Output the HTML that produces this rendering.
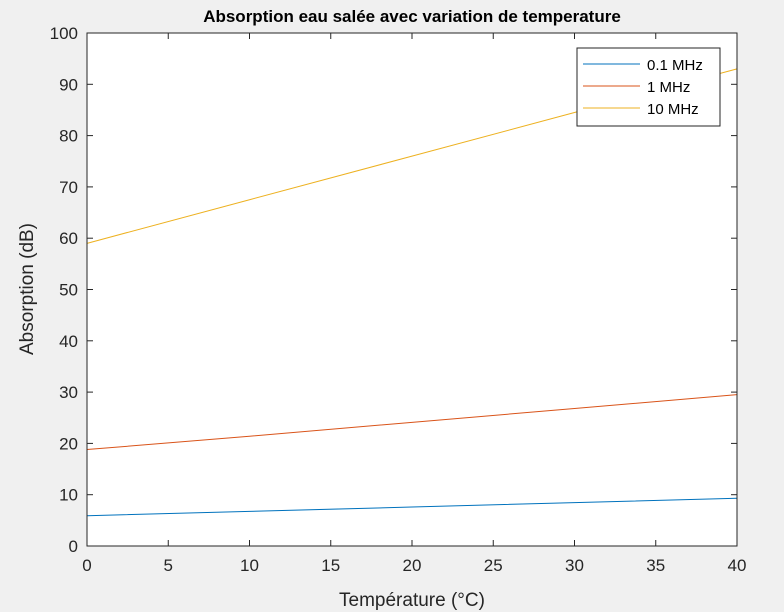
<!DOCTYPE html>
<html><head><meta charset="utf-8"><style>
body{margin:0;background:#f0f0f0;}
svg{display:block;font-family:"Liberation Sans",Arial,sans-serif;}
</style></head><body>
<svg id="chart" width="784" height="612" viewBox="0 0 784 612">
<rect x="0" y="0" width="784" height="612" fill="#f0f0f0"/>
<rect x="87" y="33" width="650" height="513" fill="#fff"/>
<g id="grid"></g>
<g id="series"></g>
<rect x="87" y="33" width="650" height="513" fill="none" stroke="#262626" stroke-width="1"/>
<text x="412" y="22" text-anchor="middle" font-size="17" font-weight="bold" fill="#000">Absorption eau salée avec variation de temperature</text>
<text x="412" y="606" text-anchor="middle" font-size="19" fill="#262626">Température (°C)</text>
<text transform="translate(33,289) rotate(-90)" text-anchor="middle" font-size="19" fill="#262626">Absorption (dB)</text>
<g>
<rect x="577" y="48" width="143" height="78" fill="#fff" stroke="#262626" stroke-width="1"/>
<g id="legend-entries"></g>
</g>
</svg>
<script>
const temps = [0, 10, 20, 30, 40];
const seriesNames = ["0.1 MHz", "1 MHz", "10 MHz"];
const s01 = [5.9, 6.75, 7.6, 8.45, 9.3];
const s1 = [18.8, 21.4, 24.1, 26.8, 29.5];
const s10 = [59, 67.5, 76, 84.5, 93];
const xTicks = [0, 5, 10, 15, 20, 25, 30, 35, 40];
const yTicks = [0, 10, 20, 30, 40, 50, 60, 70, 80, 90, 100];

const NS = "http://www.w3.org/2000/svg";
const colors = ["#0072bd", "#d95319", "#edb120"];
const X0 = 87, X1 = 737, Y0 = 546, Y1 = 33;
const xs = v => X0 + (v - 0) / 40 * (X1 - X0);
const ys = v => Y0 - (v - 0) / 100 * (Y0 - Y1);

const grid = document.getElementById("grid");
xTicks.forEach(t => {
  const l = document.createElementNS(NS, "line");
  l.setAttribute("x1", xs(t)); l.setAttribute("x2", xs(t));
  l.setAttribute("y1", Y0); l.setAttribute("y2", Y0 - 6);
  l.setAttribute("stroke", "#262626");
  
  
  grid.appendChild(l);
  const l2 = document.createElementNS(NS, "line");
  l2.setAttribute("x1", xs(t)); l2.setAttribute("x2", xs(t));
  l2.setAttribute("y1", Y1); l2.setAttribute("y2", Y1 + 6);
  l2.setAttribute("stroke", "#262626");
  
  
  grid.appendChild(l2);
  const tx = document.createElementNS(NS, "text");
  tx.setAttribute("x", xs(t)); tx.setAttribute("y", Y0 + 25);
  tx.setAttribute("text-anchor", "middle"); tx.setAttribute("font-size", "17");
  tx.setAttribute("fill", "#262626");
  tx.textContent = t;
  
  
  grid.appendChild(tx);
});
yTicks.forEach(t => {
  const l = document.createElementNS(NS, "line");
  l.setAttribute("x1", X0); l.setAttribute("x2", X0 + 6);
  l.setAttribute("y1", ys(t)); l.setAttribute("y2", ys(t));
  l.setAttribute("stroke", "#262626");
  
  
  grid.appendChild(l);
  const l2 = document.createElementNS(NS, "line");
  l2.setAttribute("x1", X1); l2.setAttribute("x2", X1 - 6);
  l2.setAttribute("y1", ys(t)); l2.setAttribute("y2", ys(t));
  l2.setAttribute("stroke", "#262626");
  
  
  grid.appendChild(l2);
  const tx = document.createElementNS(NS, "text");
  tx.setAttribute("x", X0 - 9); tx.setAttribute("y", ys(t) + 6);
  tx.setAttribute("text-anchor", "end"); tx.setAttribute("font-size", "17");
  tx.setAttribute("fill", "#262626");
  tx.textContent = t;
  
  
  grid.appendChild(tx);
});

const series = document.getElementById("series");
[s01, s1, s10].forEach((vals, i) => {
  const p = document.createElementNS(NS, "polyline");
  p.setAttribute("points", temps.map((t, k) => xs(t) + "," + ys(vals[k])).join(" "));
  p.setAttribute("fill", "none");
  p.setAttribute("stroke", colors[i]);
  p.setAttribute("stroke-width", "1");
  
  
  series.appendChild(p);
});

const leg = document.getElementById("legend-entries");
seriesNames.forEach((n, i) => {
  const y = 64 + i * 22;
  const l = document.createElementNS(NS, "line");
  l.setAttribute("x1", 583); l.setAttribute("x2", 640);
  l.setAttribute("y1", y); l.setAttribute("y2", y);
  l.setAttribute("stroke", colors[i]);
  
  
  leg.appendChild(l);
  const tx = document.createElementNS(NS, "text");
  tx.setAttribute("x", 647); tx.setAttribute("y", y + 6);
  tx.setAttribute("font-size", "15"); tx.setAttribute("fill", "#000");
  tx.textContent = n;
  
  
  leg.appendChild(tx);
});
</script>
</body></html>
